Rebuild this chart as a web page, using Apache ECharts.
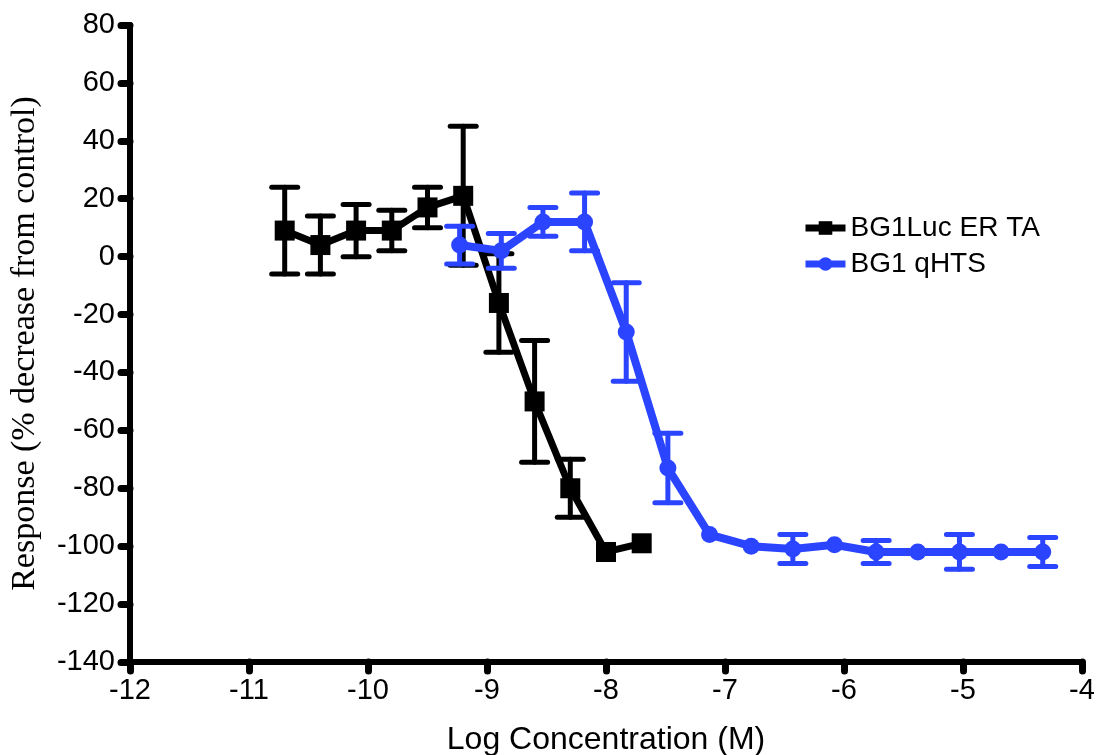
<!DOCTYPE html>
<html><head><meta charset="utf-8">
<script src="https://cdn.jsdelivr.net/npm/echarts@6/dist/echarts.min.js"></script>
<style>html,body{margin:0;padding:0;background:#fff}#c{width:1100px;height:755px}</style>
</head><body><div id="c"></div>
<script>
// BG1Luc ER TA (black squares)
const blackX = [-10.7, -10.4, -10.1, -9.8, -9.5, -9.2, -8.9, -8.6, -8.3, -8.0, -7.7];
const blackY = [9, 4, 9, 9, 17, 21, -16, -50, -80, -102, -99];
const blackErr = [15, 10, 9, 7, 7, 24, 17, 21, 10, 0, 0];
// BG1 qHTS (blue circles)
const blueX = [-9.23, -8.88, -8.53, -8.18, -7.83, -7.48, -7.13, -6.78, -6.43, -6.08, -5.73, -5.38, -5.03, -4.68, -4.33];
const blueY = [4, 2, 12, 12, -26, -73, -96, -100, -101, -99.5, -102, -102, -102, -102, -102];
const blueErr = [6.5, 6, 5, 10, 17, 12, 0, 0, 5, 0, 4, 0, 6, 0, 5];
const xTicks = [-12, -11, -10, -9, -8, -7, -6, -5, -4];
const yTicks = [-140, -120, -100, -80, -60, -40, -20, 0, 20, 40, 60, 80];

const BLACK = '#000000', BLUE = '#2a44ff';
function pts(xs, ys) { return xs.map((x, i) => [x, ys[i]]); }
function errs(xs, ys, es) { return xs.map((x, i) => [x, ys[i] - es[i], ys[i] + es[i], es[i]]).filter(d => d[3] > 0); }
function errSeries(data, color, z) {
  return {
    type: 'custom', z: z, silent: true,
    renderItem: function (params, api) {
      const x = api.value(0);
      const lo = api.coord([x, api.value(1)]);
      const hi = api.coord([x, api.value(2)]);
      const w = 13;
      const st = { stroke: color, lineWidth: 5, lineCap: 'round' };
      return { type: 'group', children: [
        { type: 'line', shape: { x1: lo[0], y1: lo[1], x2: hi[0], y2: hi[1] }, style: st },
        { type: 'line', shape: { x1: lo[0] - w, y1: lo[1], x2: lo[0] + w, y2: lo[1] }, style: st },
        { type: 'line', shape: { x1: hi[0] - w, y1: hi[1], x2: hi[0] + w, y2: hi[1] }, style: st }
      ]};
    },
    encode: { x: 0, y: [1, 2] },
    data: data
  };
}
const tickStyle = { show: true, length: 9, lineStyle: { color: '#000', width: 7, cap: 'round' } };
const chart = echarts.init(document.getElementById('c'), null, { renderer: 'canvas' });
chart.setOption({
  animation: false,
  backgroundColor: '#fff',
  grid: { left: 130, right: 18, top: 25, bottom: 93, containLabel: false, outerBoundsMode: 'none' },
  legend: {
    data: ['BG1Luc ER TA', 'BG1 qHTS'], orient: 'vertical', left: 797, top: 209,
    itemWidth: 40, itemHeight: 17, itemGap: 8,
    lineStyle: { width: 7 },
    textStyle: { fontFamily: 'Liberation Sans, Arial', fontSize: 28, color: '#000' }
  },
  xAxis: {
    type: 'value', min: -12, max: -4, interval: 1,
    name: 'Log Concentration (M)', nameLocation: 'middle', nameGap: 62,
    nameTextStyle: { fontFamily: 'Liberation Sans, Arial', fontSize: 32, color: '#000' },
    axisLine: { onZero: false, lineStyle: { color: '#000', width: 6 } },
    axisTick: tickStyle,
    axisLabel: { fontFamily: 'Liberation Sans, Arial', fontSize: 29, color: '#000', margin: 14,
      formatter: v => String(v) },
    splitLine: { show: false }
  },
  yAxis: {
    type: 'value', min: -140, max: 80, interval: 20,
    name: 'Response (% decrease from control)', nameLocation: 'middle', nameGap: 88,
    nameTextStyle: { fontFamily: 'Liberation Serif, Times New Roman', fontSize: 34, color: '#000' },
    axisLine: { onZero: false, lineStyle: { color: '#000', width: 6 } },
    axisTick: tickStyle,
    axisLabel: { fontFamily: 'Liberation Sans, Arial', fontSize: 29, color: '#000', margin: 15,
      formatter: v => String(v) },
    splitLine: { show: false }
  },
  series: [
    errSeries(errs(blackX, blackY, blackErr), BLACK, 1),
    { name: 'BG1Luc ER TA', type: 'line', z: 2, data: pts(blackX, blackY),
      symbol: 'rect', symbolSize: 20, color: BLACK,
      lineStyle: { color: BLACK, width: 7 }, itemStyle: { color: BLACK } },
    errSeries(errs(blueX, blueY, blueErr), BLUE, 3),
    { name: 'BG1 qHTS', type: 'line', z: 4, data: pts(blueX, blueY),
      symbol: 'circle', symbolSize: 17, color: BLUE,
      lineStyle: { color: BLUE, width: 8 }, itemStyle: { color: BLUE } }
  ]
});
</script></body></html>
